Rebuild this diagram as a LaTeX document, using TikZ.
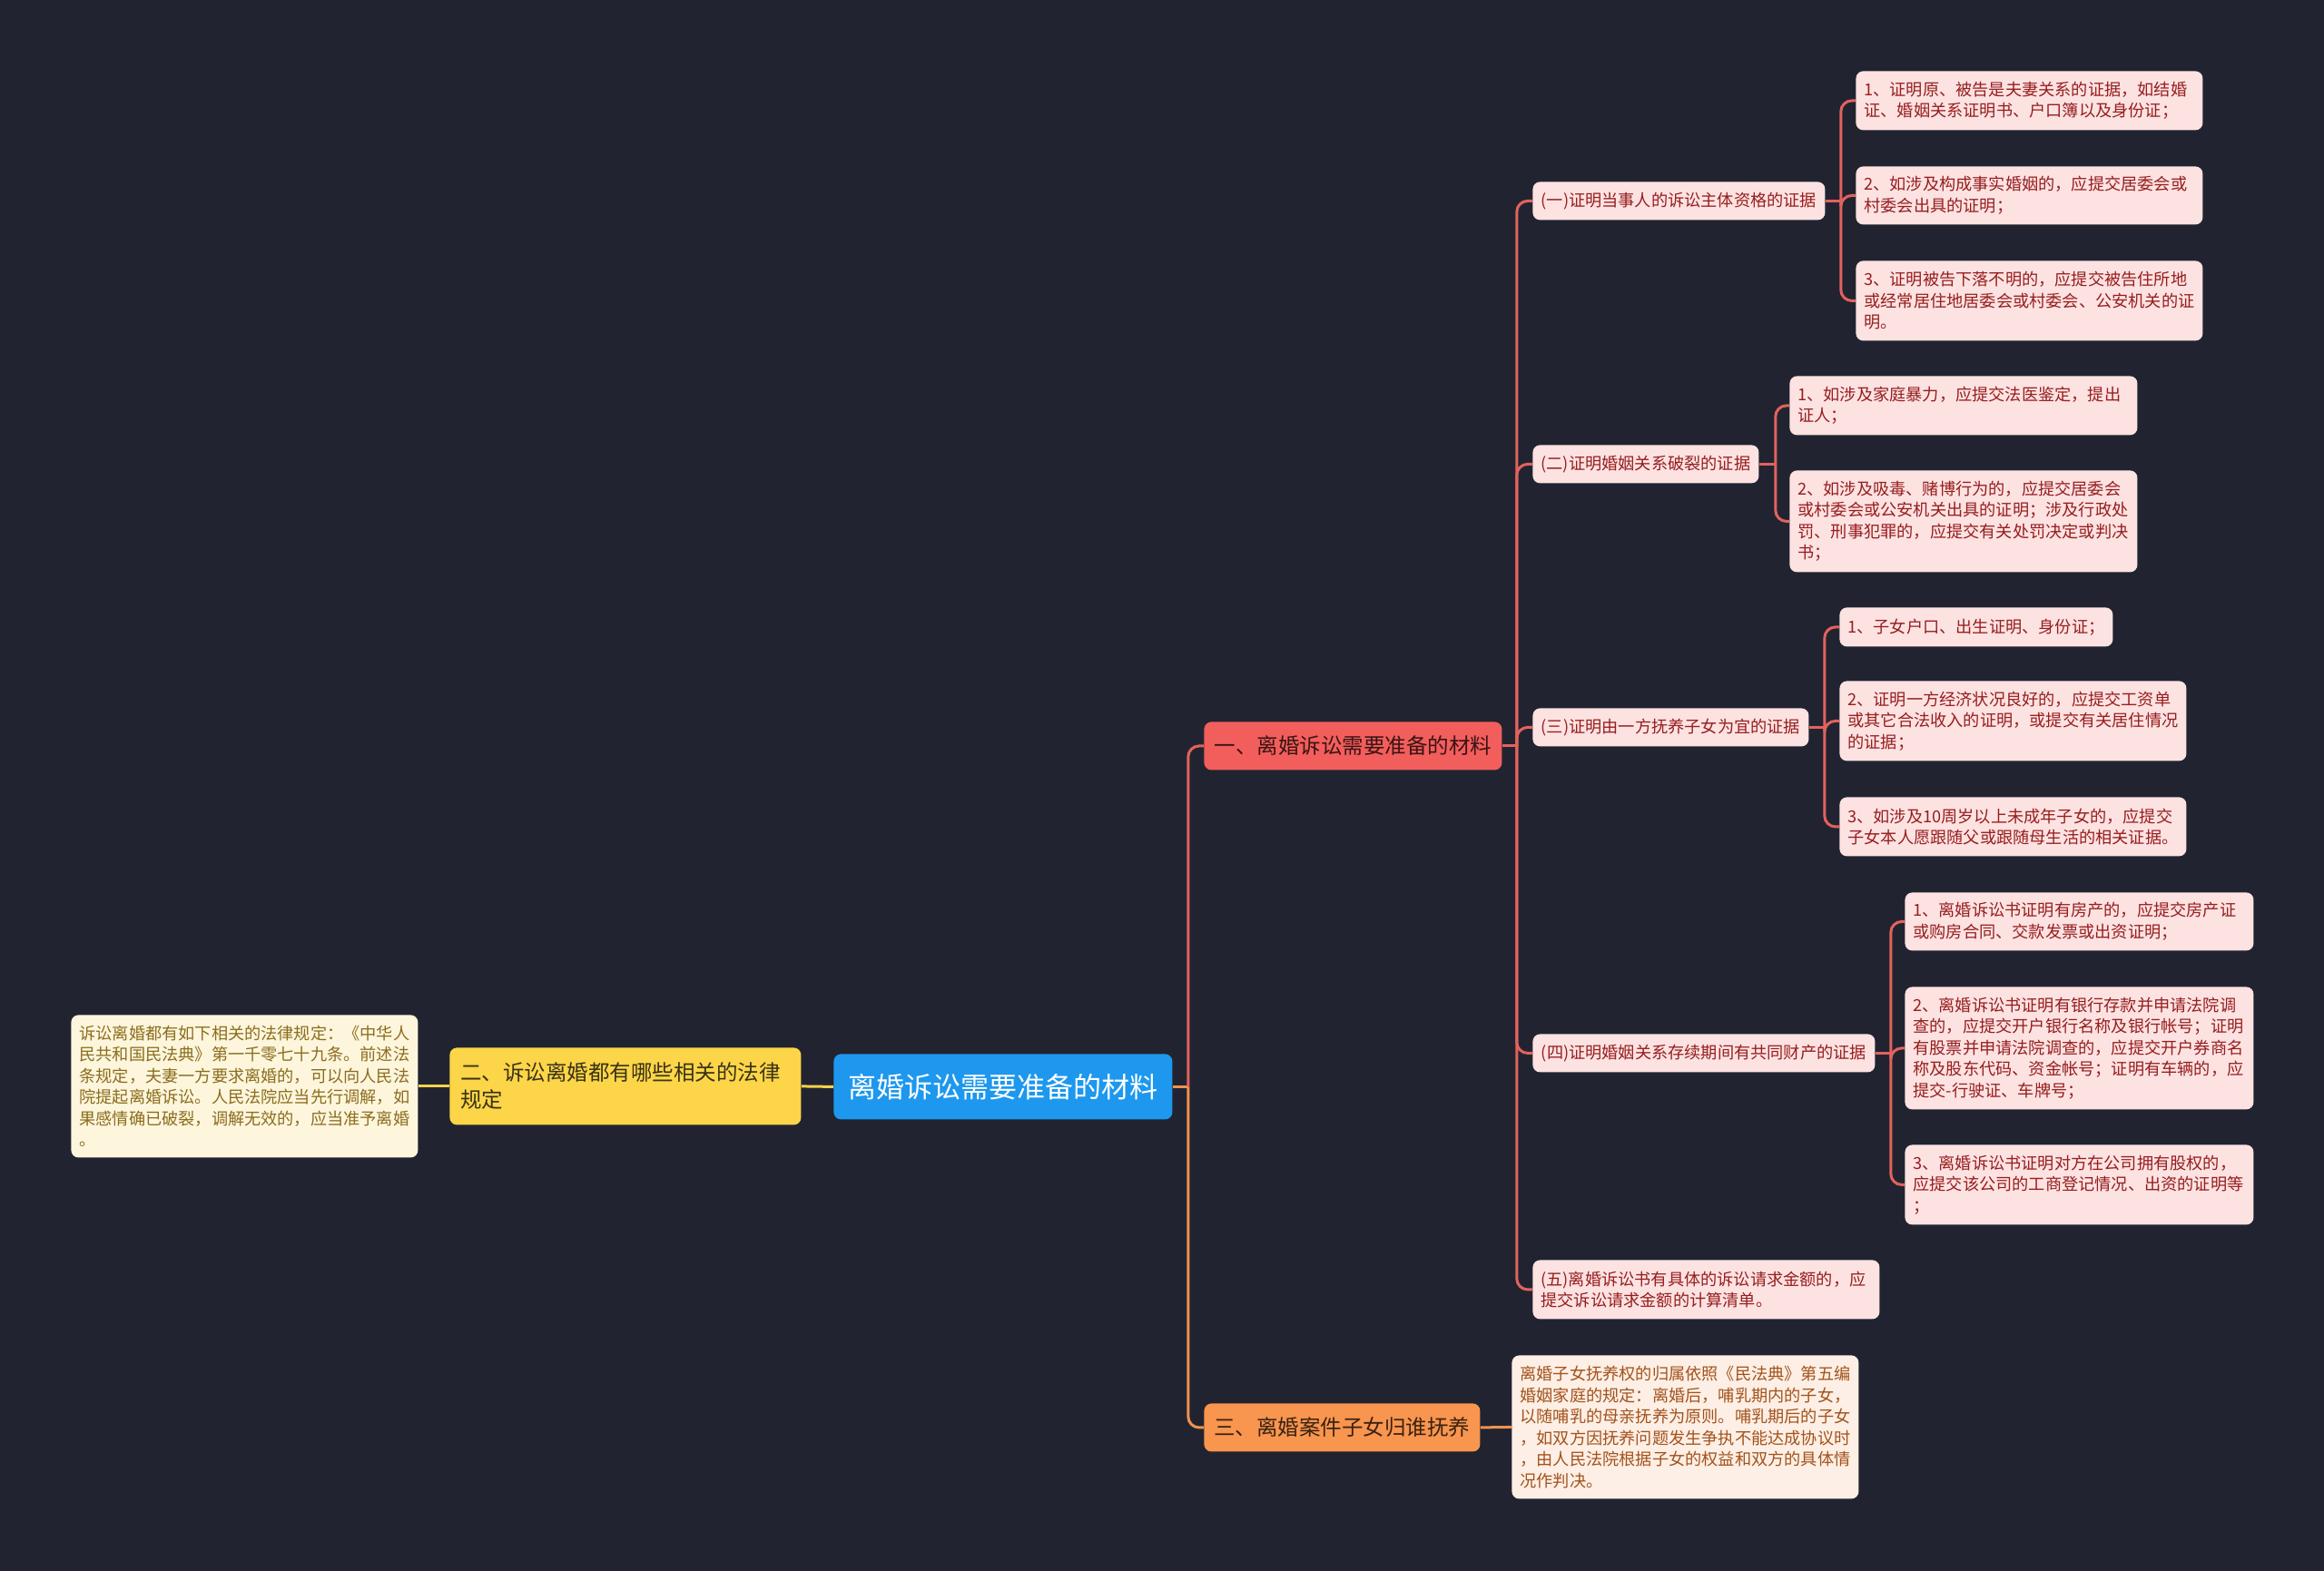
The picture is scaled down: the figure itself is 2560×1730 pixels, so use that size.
\documentclass[tikz,border=0pt]{standalone}
\usepackage{fontspec}
\setmainfont{Noto Sans CJK SC}
\definecolor{bg}{HTML}{212430}
\definecolor{rootfill}{HTML}{1D98EE}
\definecolor{redfill}{HTML}{F25E5C}
\definecolor{redtext}{HTML}{3A1414}
\definecolor{orfill}{HTML}{F8954F}
\definecolor{ortext}{HTML}{3A2210}
\definecolor{yefill}{HTML}{FCD549}
\definecolor{yetext}{HTML}{3A3214}
\definecolor{itemfill}{HTML}{FDE2E2}
\definecolor{itemtext}{HTML}{961E1E}
\definecolor{ynotefill}{HTML}{FDF6DD}
\definecolor{ynotetext}{HTML}{8C6D1D}
\definecolor{onotefill}{HTML}{FDEFE5}
\definecolor{onotetext}{HTML}{A3521C}
\definecolor{rline}{HTML}{E2625E}
\definecolor{oline}{HTML}{F0914F}
\definecolor{yline}{HTML}{F5D24A}
\begin{document}
\begin{tikzpicture}[x=0.5pt,y=-0.5pt,
  bx/.style={rounded corners=4pt, inner xsep=4.5pt, inner ysep=0pt, anchor=north west},
  small/.style={font=\fontsize{9.1pt}{11.75pt}\selectfont},
  item/.style={bx, small, fill=itemfill, text=itemtext, align=left},
  sub/.style={bx, small, fill=itemfill, text=itemtext, align=center},
  branch/.style={bx, font=\fontsize{11.75pt}{15pt}\selectfont, align=center},
  conn/.style={line width=1.5pt},
  rc/.style={conn, draw=rline, rounded corners=6pt},
  oc/.style={conn, draw=oline, rounded corners=6pt},
  yc/.style={conn, draw=yline}
]
\useasboundingbox (0,0) rectangle (2560,1730);
\fill[bg] (-10,-10) rectangle (2570,1740);

% root
\node[bx, fill=rootfill, text=white, font=\fontsize{15.5pt}{18pt}\selectfont,
  minimum width=186.5pt, minimum height=36pt, align=center] (root) at (918,1161) {离婚诉讼需要准备的材料};

% branches
\node[branch, fill=redfill, text=redtext, minimum width=164pt, minimum height=26.5pt] (red) at (1326,795) {一、离婚诉讼需要准备的材料};
\node[branch, fill=orfill, text=ortext, minimum width=152pt, minimum height=26.5pt] (orange) at (1326,1546) {三、离婚案件子女归谁抚养};
\node[branch, fill=yefill, text=yetext, inner xsep=6pt, text width=181.5pt, minimum height=42.5pt, align=left] (yellow) at (495,1154) {二、诉讼离婚都有哪些相关的法律\\规定};

% notes
\node[bx, small, fill=ynotefill, text=ynotetext, align=left, text width=182pt, minimum height=78.5pt] (ynote) at (78,1118) {诉讼离婚都有如下相关的法律规定：《中华人\\民共和国民法典》第一千零七十九条。前述法\\条规定，夫妻一方要求离婚的，可以向人民法\\院提起离婚诉讼。人民法院应当先行调解，如\\果感情确已破裂，调解无效的，应当准予离婚\\。};
\node[bx, small, fill=onotefill, text=onotetext, align=left, text width=182pt, minimum height=79pt] (onote) at (1665,1493) {离婚子女抚养权的归属依照《民法典》第五编\\婚姻家庭的规定：离婚后，哺乳期内的子女，\\以随哺乳的母亲抚养为原则。哺乳期后的子女\\，如双方因抚养问题发生争执不能达成协议时\\，由人民法院根据子女的权益和双方的具体情\\况作判决。};

% sub boxes
\node[sub, minimum width=161pt, minimum height=21pt] (s1) at (1688,200) {(一)证明当事人的诉讼主体资格的证据};
\node[sub, minimum width=124.5pt, minimum height=21pt] (s2) at (1688,490) {(二)证明婚姻关系破裂的证据};
\node[sub, minimum width=152pt, minimum height=21pt] (s3) at (1688,780) {(三)证明由一方抚养子女为宜的证据};
\node[sub, minimum width=188.5pt, minimum height=21pt] (s4) at (1688,1139) {(四)证明婚姻关系存续期间有共同财产的证据};
\node[item, text width=182pt, minimum height=32.5pt] (s5) at (1688,1388) {(五)离婚诉讼书有具体的诉讼请求金额的，应\\提交诉讼请求金额的计算清单。};

% items of (一)
\node[item, text width=182pt, minimum height=32.5pt] (a1) at (2044,78) {1、证明原、被告是夫妻关系的证据，如结婚\\证、婚姻关系证明书、户口簿以及身份证；};
\node[item, text width=182pt, minimum height=32pt] (a2) at (2044,183) {2、如涉及构成事实婚姻的，应提交居委会或\\村委会出具的证明；};
\node[item, text width=182pt, minimum height=44pt] (a3) at (2044,287) {3、证明被告下落不明的，应提交被告住所地\\或经常居住地居委会或村委会、公安机关的证\\明。};

% items of (二)
\node[item, text width=182.5pt, minimum height=32.5pt] (b1) at (1971,414) {1、如涉及家庭暴力，应提交法医鉴定，提出\\证人；};
\node[item, text width=182.5pt, minimum height=56pt] (b2) at (1971,518) {2、如涉及吸毒、赌博行为的，应提交居委会\\或村委会或公安机关出具的证明；涉及行政处\\罚、刑事犯罪的，应提交有关处罚决定或判决\\书；};

% items of (三)
\node[item, text width=141.5pt, minimum height=21.5pt] (c1) at (2026,669) {1、子女户口、出生证明、身份证；};
\node[item, text width=182pt, minimum height=44pt] (c2) at (2026,750) {2、证明一方经济状况良好的，应提交工资单\\或其它合法收入的证明，或提交有关居住情况\\的证据；};
\node[item, text width=182pt, minimum height=32.5pt] (c3) at (2026,878) {3、如涉及10周岁以上未成年子女的，应提交\\子女本人愿跟随父或跟随母生活的相关证据。};

% items of (四)
\node[item, text width=183pt, minimum height=32pt] (d1) at (2098,983) {1、离婚诉讼书证明有房产的，应提交房产证\\或购房合同、交款发票或出资证明；};
\node[item, text width=183pt, minimum height=67.5pt] (d2) at (2098,1087) {2、离婚诉讼书证明有银行存款并申请法院调\\查的，应提交开户银行名称及银行帐号；证明\\有股票并申请法院调查的，应提交开户券商名\\称及股东代码、资金帐号；证明有车辆的，应\\提交-行驶证、车牌号；};
\node[item, text width=183pt, minimum height=44pt] (d3) at (2098,1261) {3、离婚诉讼书证明对方在公司拥有股权的，\\应提交该公司的工商登记情况、出资的证明等\\；};

% connectors: root
\draw[yc] (root.west) -- (yellow.east);
\draw[yc] (yellow.west) -- (ynote.east);
\draw[oc] (root.east) -- ++(17,0) coordinate (mj);
\draw[rc] (mj) |- (red.west);
\draw[oc] (mj) |- (orange.west);
\draw[oc] (orange.east) -- (onote.west);

% red branch
\draw[rc] (red.east) -- ++(16,0) coordinate (rj);
\foreach \c in {s1,s2,s3,s4,s5} \draw[rc] (rj) |- (\c.west);

% sub branches
\draw[rc] (s1.east) -- ++(17,0) coordinate (s1j);
\foreach \c in {a1,a2,a3} \draw[rc] (s1j) |- (\c.west);
\draw[rc] (s2.east) -- ++(18,0) coordinate (s2j);
\foreach \c in {b1,b2} \draw[rc] (s2j) |- (\c.west);
\draw[rc] (s3.east) -- ++(17,0) coordinate (s3j);
\foreach \c in {c1,c2,c3} \draw[rc] (s3j) |- (\c.west);
\draw[rc] (s4.east) -- ++(17,0) coordinate (s4j);
\foreach \c in {d1,d2,d3} \draw[rc] (s4j) |- (\c.west);
\end{tikzpicture}
\end{document}
